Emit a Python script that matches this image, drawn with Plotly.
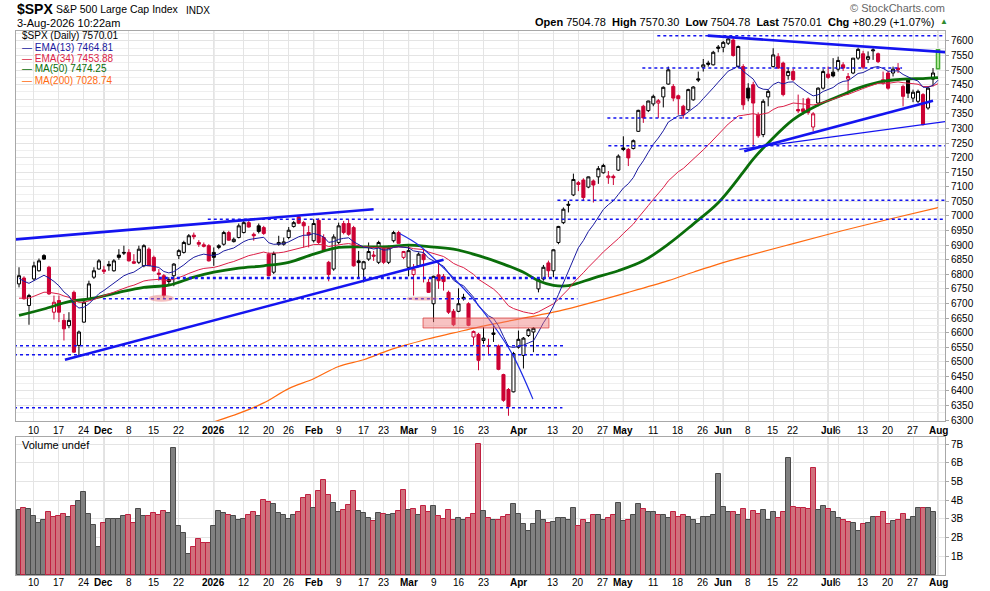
import pandas as pd
import plotly.graph_objects as go

# trading days on the chart (NYSE holidays left out)
holidays = ["2025-11-27", "2025-12-25", "2026-01-01", "2026-01-19", "2026-02-16",
            "2026-04-03", "2026-05-25", "2026-06-19", "2026-07-03"]
dates = pd.bdate_range("2025-11-05", "2026-08-03")
dates = dates[~dates.isin(pd.to_datetime(holidays))]

# daily OHLC of $SPX
opens = [6767, 6787, 6693, 6784, 6812, 6864, 6824, 6670, 6710, 6642,
         6624, 6738, 6556, 6636, 6716, 6790, 6818, 6815, 6834, 6812,
         6866, 6875, 6875, 6843, 6841, 6829, 6886, 6858, 6804, 6795,
         6782, 6795, 6864, 6875, 6903, 6934, 6909, 6901, 6898, 6875,
         6892, 6903, 6943, 6912, 6926, 6943, 6977, 6937, 6966, 6960,
         6869, 6807, 6903, 6903, 6926, 6964, 6997, 6977, 6943, 6915,
         6985, 6926, 6841, 6818, 6909, 6974, 6974, 6960, 6846, 6818,
         6852, 6866, 6841, 6892, 6841, 6915, 6943, 6858, 6824, 6799,
         6829, 6869, 6772, 6699, 6798, 6793, 6738, 6673, 6673, 6721,
         6699, 6585, 6594, 6573, 6556, 6599, 6554, 6456, 6405, 6397,
         6550, 6522, 6590, 6602, 6750, 6784, 6839, 6812, 6909, 6977,
         7040, 7072, 7114, 7123, 7099, 7120, 7134, 7148, 7131, 7136,
         7157, 7233, 7228, 7231, 7290, 7376, 7361, 7384, 7387, 7408,
         7452, 7444, 7412, 7376, 7364, 7398, 7470, 7510, 7524, 7518,
         7579, 7578, 7592, 7603, 7512, 7512, 7438, 7450, 7345, 7279,
         7408, 7512, 7546, 7524, 7481, 7495, 7365, 7367, 7401, 7305,
         7387, 7438, 7486, 7493, 7503, 7518, 7469, 7490, 7541, 7556,
         7537, 7566, 7556, 7455, 7490, 7490, 7507, 7444, 7467, 7404,
         7393, 7416, 7370, 7469, 7504.78]
highs = [6824, 6793, 6733, 6843, 6854, 6869, 6829, 6727, 6727, 6664,
         6670, 6744, 6607, 6716, 6778, 6824, 6852, 6829, 6846, 6852,
         6886, 6898, 6886, 6869, 6898, 6903, 6892, 6864, 6818, 6801,
         6790, 6838, 6886, 6915, 6938, 6943, 6917, 6909, 6903, 6892,
         6903, 6949, 6949, 6926, 6974, 6983, 6983, 6943, 6974, 6966,
         6875, 6878, 6932, 6926, 6962, 6983, 7003, 6983, 6966, 6989,
         6992, 6937, 6846, 6937, 6977, 6983, 6989, 6966, 6880, 6846,
         6909, 6880, 6915, 6898, 6898, 6949, 6949, 6880, 6898, 6835,
         6875, 6886, 6784, 6795, 6846, 6801, 6744, 6681, 6752, 6733,
         6704, 6607, 6599, 6619, 6579, 6630, 6559, 6459, 6410, 6534,
         6607, 6585, 6615, 6619, 6786, 6832, 6847, 6886, 6966, 7029,
         7051, 7145, 7120, 7129, 7135, 7125, 7171, 7179, 7154, 7142,
         7211, 7273, 7233, 7262, 7364, 7381, 7395, 7416, 7401, 7444,
         7512, 7452, 7416, 7381, 7436, 7445, 7495, 7538, 7532, 7566,
         7586, 7600, 7611, 7611, 7584, 7520, 7455, 7460, 7355, 7400,
         7433, 7575, 7558, 7529, 7507, 7504, 7416, 7404, 7406, 7356,
         7441, 7503, 7512, 7541, 7546, 7527, 7490, 7541, 7577, 7566,
         7564, 7575, 7560, 7495, 7497, 7512, 7524, 7450, 7473, 7433,
         7433, 7421, 7444, 7507, 7570.30]
lows = [6755, 6713, 6627, 6778, 6809, 6849, 6729, 6645, 6636, 6573,
        6615, 6531, 6522, 6634, 6710, 6784, 6816, 6801, 6812, 6809,
        6850, 6866, 6844, 6835, 6835, 6824, 6829, 6809, 6778, 6718,
        6761, 6759, 6852, 6871, 6900, 6920, 6894, 6892, 6844, 6829,
        6886, 6898, 6915, 6909, 6923, 6940, 6960, 6915, 6940, 6935,
        6793, 6801, 6898, 6898, 6920, 6960, 6972, 6892, 6892, 6909,
        6903, 6878, 6776, 6812, 6903, 6937, 6932, 6826, 6789, 6772,
        6846, 6846, 6835, 6835, 6835, 6909, 6906, 6852, 6793, 6727,
        6824, 6772, 6736, 6636, 6750, 6744, 6664, 6622, 6670, 6710,
        6622, 6556, 6471, 6562, 6522, 6568, 6471, 6363, 6315, 6395,
        6545, 6477, 6585, 6533, 6738, 6778, 6790, 6790, 6903, 6972,
        7012, 7068, 7085, 7051, 7095, 7046, 7110, 7145, 7110, 7106,
        7154, 7222, 7171, 7228, 7288, 7319, 7356, 7376, 7336, 7372,
        7450, 7393, 7347, 7334, 7361, 7395, 7459, 7495, 7512, 7516,
        7561, 7561, 7586, 7546, 7507, 7364, 7393, 7237, 7268, 7270,
        7376, 7509, 7504, 7410, 7467, 7463, 7353, 7347, 7347, 7290,
        7376, 7433, 7470, 7475, 7495, 7497, 7416, 7486, 7535, 7503,
        7524, 7535, 7524, 7450, 7433, 7478, 7490, 7376, 7404, 7390,
        7387, 7310, 7364, 7444, 7504.78]
closes = [6795, 6716, 6727, 6829, 6846, 6852, 6733, 6704, 6670, 6613,
          6642, 6533, 6602, 6704, 6767, 6812, 6846, 6810, 6829, 6846,
          6858, 6873, 6846, 6838, 6886, 6898, 6829, 6812, 6800, 6727,
          6775, 6835, 6881, 6909, 6932, 6929, 6903, 6896, 6846, 6858,
          6898, 6943, 6917, 6920, 6966, 6977, 6962, 6932, 6947, 6940,
          6795, 6871, 6909, 6911, 6951, 6977, 6975, 6966, 6935, 6974,
          6909, 6883, 6799, 6928, 6966, 6943, 6937, 6829, 6840, 6843,
          6878, 6862, 6909, 6841, 6892, 6943, 6906, 6878, 6881, 6818,
          6869, 6850, 6738, 6793, 6778, 6775, 6670, 6627, 6699, 6716,
          6625, 6604, 6505, 6581, 6553, 6594, 6474, 6368, 6346, 6528,
          6577, 6581, 6610, 6615, 6782, 6824, 6812, 6884, 6964, 7023,
          7037, 7125, 7108, 7063, 7134, 7106, 7162, 7173, 7137, 7131,
          7205, 7228, 7199, 7258, 7362, 7336, 7394, 7410, 7395, 7441,
          7501, 7404, 7402, 7347, 7433, 7442, 7466, 7518, 7520, 7561,
          7575, 7595, 7607, 7550, 7581, 7381, 7404, 7387, 7275, 7393,
          7427, 7552, 7507, 7416, 7495, 7467, 7360, 7358, 7355, 7350,
          7438, 7495, 7475, 7480, 7533, 7507, 7478, 7541, 7571, 7510,
          7546, 7569, 7529, 7467, 7438, 7503, 7501, 7410, 7421, 7424,
          7427, 7313, 7438, 7490, 7570.01]

# volume in billions (today's bar is not drawn yet)
volume_b = [3.48, 3.57, 3.52, 3.16, 2.77, 2.95, 3.36, 3.09, 3.16, 3.25,
            3.09, 3.68, 3.96, 4.45, 3.25, 2.66, 1.48, 2.77, 2.98, 2.98,
            2.98, 3.14, 3.20, 2.77, 3.52, 3.14, 3.14, 3.30, 3.20, 3.43,
            3.30, 6.79, 2.61, 2.23, 1.11, 1.48, 1.91, 1.70, 1.70, 2.61,
            3.41, 3.30, 3.20, 3.14, 2.93, 2.98, 3.20, 3.36, 3.14, 4.00,
            3.89, 3.79, 3.30, 3.20, 2.98, 3.20, 3.36, 4.11, 4.27, 3.57,
            4.48, 5.07, 4.27, 3.84, 3.36, 3.46, 3.73, 4.48, 3.41, 3.30,
            3.04, 2.88, 3.30, 3.25, 3.20, 3.25, 3.43, 4.54, 3.46, 3.52,
            3.20, 3.68, 3.36, 3.68, 3.14, 2.98, 3.46, 2.93, 3.04, 2.93,
            3.04, 3.25, 7.00, 3.45, 3.07, 2.94, 2.97, 3.13, 3.23, 3.82,
            3.29, 2.71, 2.35, 2.71, 3.45, 2.97, 2.76, 2.85, 3.03, 3.03,
            2.97, 3.61, 2.60, 2.97, 2.81, 3.24, 3.19, 2.97, 3.03, 3.24,
            3.88, 2.87, 2.92, 3.19, 3.82, 3.56, 3.35, 3.40, 3.22, 3.22,
            3.03, 3.35, 3.13, 3.19, 3.13, 2.92, 2.71, 3.08, 3.13, 3.19,
            5.42, 3.66, 3.40, 3.40, 3.24, 3.56, 2.92, 3.45, 3.29, 3.50,
            2.97, 3.35, 3.03, 3.35, 6.27, 3.66, 3.61, 3.61, 3.56, 5.74,
            3.50, 3.71, 3.56, 3.40, 3.03, 2.97, 2.85, 2.76, 2.35, 2.71,
            2.81, 3.08, 3.13, 3.40, 2.71, 2.87, 2.97, 3.29, 2.97, 3.08,
            3.61, 3.61, 3.61, 3.40, None]

# MA(50) and MA(200) at roughly weekly points (bar index, value)
ma50_idx = [0, 5, 10, 15, 20, 25, 30, 35, 39, 44, 49, 54, 59, 64, 69, 74, 78, 82, 87,
            92, 97, 101, 104, 107, 110, 115, 120, 125, 130, 135, 140, 145, 147, 150,
            155, 160, 165, 168, 172, 175, 178, 181, 184]
ma50_val = [6659, 6681, 6706, 6718, 6738, 6755, 6763, 6790, 6807, 6821, 6829, 6841,
            6869, 6892, 6894, 6895, 6900, 6895, 6886, 6864, 6835, 6807, 6778, 6762,
            6761, 6787, 6812, 6846, 6903, 6972, 7045, 7150, 7195, 7250, 7330, 7380,
            7416, 7438, 7458, 7466, 7470, 7471, 7474.25]
ma200_idx = [39, 44, 49, 54, 59, 64, 69, 74, 78, 82, 87, 92, 97, 102, 107, 112,
             122, 130, 135, 140, 146, 155, 165, 175, 184]
ma200_val = [6294, 6323, 6359, 6408, 6442, 6484, 6507, 6539, 6560, 6579, 6599, 6619,
             6636, 6653, 6670, 6691, 6738, 6778, 6807, 6835, 6864, 6905, 6950, 6992,
             7028.74]
# EMA start values read at the first bar
ema13_start = 6786
ema34_start = 6718

# x-axis labels (week starts / month starts)
tick_dates = ["2025-11-10", "2025-11-17", "2025-11-24", "2025-12-01", "2025-12-08",
              "2025-12-15", "2025-12-22", "2026-01-02", "2026-01-12", "2026-01-20",
              "2026-01-26", "2026-02-02", "2026-02-09", "2026-02-17", "2026-02-23",
              "2026-03-02", "2026-03-09", "2026-03-16", "2026-03-23", "2026-04-01",
              "2026-04-13", "2026-04-20", "2026-04-27", "2026-05-01", "2026-05-11",
              "2026-05-18", "2026-05-26", "2026-06-01", "2026-06-08", "2026-06-15",
              "2026-06-22", "2026-07-01", "2026-07-06", "2026-07-13", "2026-07-20",
              "2026-07-27", "2026-08-03"]
tick_text = ["10", "17", "24", "Dec", "8", "15", "22", "2026", "12", "20", "26", "Feb",
             "9", "17", "23", "Mar", "9", "16", "23", "Apr", "13", "20", "27", "May",
             "11", "18", "26", "Jun", "8", "15", "22", "Jul", "6", "13", "20", "27", "Aug"]

# hand-drawn annotations: trend lines (x0, y0, x1, y1, width) and dotted levels
trend_lines = [(-3.8, 6915, 71, 7023, 2.6), (9.2, 6507, 85, 6850, 2.6),
               (137.9, 7618, 185.8, 7561, 2.6), (145.2, 7222, 183, 7395, 2.6),
               (144.2, 7228, 187, 7327, 1.2)]
curve_x = [76.2, 80.2, 86.2, 91.5, 95.5, 98.9, 102.9]
curve_y = [6940, 6898, 6801, 6704, 6613, 6522, 6372]
levels = [(127.8, 185.5, 7618, 1.5), (124.8, 176.8, 7507, 1.5), (117.8, 145.0, 7336, 1.5),
          (118.0, 185.5, 7241, 1.5), (107.8, 185.5, 7054, 1.5), (37.8, 185.5, 6989, 1.5),
          (28.0, 111.8, 6787, 2.6), (16.8, 111.8, 6716, 1.5), (-1, 109.2, 6555, 1.5),
          (-1, 108.2, 6524, 1.5), (-1, 108.8, 6342, 1.5)]

RED = "#cc0033"
W, H = 990, 591
L, R, T, B = 16, 45, 31, 16


def px(x, y):
    # pixel position in the window -> paper coordinates
    return (x - L) / (W - L - R), (H - B - y) / (H - T - B)


def ema(vals, n, start):
    a = 2 / (n + 1)
    out = [start]
    for v in vals[1:]:
        out.append(out[-1] + a * (v - out[-1]))
    return out


df = pd.DataFrame({"date": dates, "open": opens, "high": highs, "low": lows,
                   "close": closes, "vol": [v * 1e9 if v else None for v in volume_b]})
df["x"] = range(len(df))
df["down"] = df["close"] < df["close"].shift(1)
xpos = {d.strftime("%Y-%m-%d"): i for i, d in enumerate(df["date"])}
tickvals = [xpos[d] for d in tick_dates]

fig = go.Figure()

up = df[~df["down"]].iloc[:-1]
dn = df[df["down"]]
last = df.iloc[-1:]
for part, col in [(up, "#000000"), (dn, RED)]:
    fig.add_trace(go.Candlestick(
        x=part["x"], open=part["open"], high=part["high"], low=part["low"], close=part["close"],
        increasing=dict(line=dict(color=col, width=1), fillcolor="white"),
        decreasing=dict(line=dict(color=col, width=1), fillcolor=col),
        hoverinfo="skip"))
fig.add_trace(go.Candlestick(
    x=last["x"], open=last["open"], high=last["high"], low=last["low"], close=last["close"],
    increasing=dict(line=dict(color="#44aa33", width=1.5), fillcolor="#c6f3ae"),
    decreasing=dict(line=dict(color="#44aa33", width=1.5), fillcolor="#c6f3ae"),
    hoverinfo="skip"))

fig.add_trace(go.Scatter(x=ma200_idx, y=ma200_val, mode="lines", line=dict(color="#ff6a10", width=1.2, shape="spline")))
fig.add_trace(go.Scatter(x=ma50_idx, y=ma50_val, mode="lines", line=dict(color="#0a6e0a", width=2.8, shape="spline")))
fig.add_trace(go.Scatter(x=df["x"], y=ema(closes, 34, ema34_start), mode="lines", line=dict(color="#dc1e46", width=1)))
fig.add_trace(go.Scatter(x=df["x"], y=ema(closes, 13, ema13_start), mode="lines", line=dict(color="#1a1aa0", width=1)))
fig.add_trace(go.Scatter(x=curve_x, y=curve_y, mode="lines", line=dict(color="#1e2de6", width=1.2, shape="spline")))

vol_colors = ["#d0707c" if d else "#808080" for d in df["down"]]
vol_lines = ["#c02040" if d else "#4a4a4a" for d in df["down"]]
fig.add_trace(go.Bar(x=df["x"], y=df["vol"], xaxis="x2", yaxis="y2",
                     marker=dict(color=vol_colors, line=dict(color=vol_lines, width=1))))

shapes = []
for x0, y0, x1, y1, w in trend_lines:
    shapes.append(dict(type="line", xref="x", yref="y", x0=x0, y0=y0, x1=x1, y1=y1,
                       line=dict(color="#1414f0", width=w)))
for x0, x1, y, w in levels:
    shapes.append(dict(type="line", xref="x", yref="y", x0=x0, y0=y, x1=x1, y1=y,
                       line=dict(color="#1414f0", width=w, dash="dot")))
shapes.append(dict(type="circle", xref="x", yref="y", x0=26, x1=31, y0=6706, y1=6730,
                   fillcolor="rgba(235,120,120,0.45)", line=dict(width=0)))
shapes.append(dict(type="circle", xref="x", yref="y", x0=77.5, x1=83.9, y0=6710, y1=6723,
                   fillcolor="rgba(235,120,120,0.45)", line=dict(width=0)))
shapes.append(dict(type="rect", xref="x", yref="y", x0=80.9, x1=106.1, y0=6616, y1=6650,
                   fillcolor="rgba(240,120,120,0.45)", line=dict(color="rgba(220,70,70,0.8)", width=1)))
# darker grid lines at month starts
for v, t in zip(tickvals, tick_text):
    if not t.isdigit() or t == "2026":
        for ya in ["y domain", "y2 domain"]:
            shapes.append(dict(type="line", xref="x", yref=ya, x0=v, x1=v, y0=0, y1=1, layer="below",
                               line=dict(color="#b9b9b9", width=1)))

axis_font = dict(family="Liberation Sans, Arial", size=10, color="#000")
xcommon = dict(range=[-0.6, 185.4], tickvals=tickvals, showticklabels=False, showgrid=True,
               gridcolor="#e4e4e4", showline=True, linecolor="#a8a8a8", mirror=True,
               zeroline=False, ticks="", automargin=False, rangeslider=dict(visible=False))

fig.update_layout(
    width=W, height=H, autosize=False, margin=dict(l=L, r=R, t=T, b=B, pad=0),
    paper_bgcolor="white", plot_bgcolor="white", showlegend=False, boxgap=0.12,
    xaxis=dict(anchor="y", **xcommon),
    xaxis2=dict(anchor="y2", matches="x", **xcommon),
    yaxis=dict(domain=[px(0, 421)[1], 1], range=[6297, 7634], side="right", dtick=50,
               tick0=0, showgrid=True, gridcolor="#e4e4e4", showline=True, linecolor="#a8a8a8",
               mirror=True, zeroline=False, ticks="outside", ticklen=3, tickcolor="#a8a8a8",
               tickfont=axis_font, automargin=False,
               minor=dict(dtick=25, showgrid=True, gridcolor="#efefef")),
    yaxis2=dict(domain=[0, px(0, 437)[1]], range=[0, 7.39e9], side="right",
                tickvals=[i * 1e9 for i in range(1, 8)], ticktext=[f"{i}B" for i in range(1, 8)],
                showgrid=True, gridcolor="#e4e4e4", showline=True, linecolor="#a8a8a8",
                mirror=True, zeroline=False, ticks="outside", ticklen=3, tickcolor="#a8a8a8",
                tickfont=axis_font, automargin=False),
    bargap=0, shapes=shapes,
)

font = "Liberation Sans, Arial"
# date labels under the price panel and under the volume panel
for v, t in zip(tickvals, tick_text):
    label = t if t.isdigit() and t != "2026" else f"<b>{t}</b>"
    for ypix in (430, 582):
        fig.add_annotation(x=v, xref="x", y=px(0, ypix)[1], yref="paper", text=label,
                           showarrow=False, xanchor="center", yanchor="middle",
                           font=dict(family=font, size=10, color="#000"))

notes = [
    (15, 9, "<b>$SPX</b>", 14, "#000", "left"),
    (54, 9, "S&P 500 Large Cap Index", 10.5, "#000", "left"),
    (184, 10, "INDX", 10, "#000", "left"),
    (15, 23, "3-Aug-2026 10:22am", 11, "#000", "left"),
    (947, 8, "© StockCharts.com", 11, "#666", "right"),
    (936, 22, "<b>Open</b> 7504.78  <b>High</b> 7570.30  <b>Low</b> 7504.78  "
              "<b>Last</b> 7570.01  <b>Chg</b> +80.29 (+1.07%)", 11, "#000", "right"),
    (938, 22, "▲", 8, "#2e8b2e", "left"),
    (20, 36, "$SPX (Daily) 7570.01", 10, "#000", "left"),
    (20, 47, "— EMA(13) 7464.81", 10, "#1a1aa0", "left"),
    (20, 58, "— EMA(34) 7453.88", 10, "#dc1e46", "left"),
    (20, 69, "— MA(50) 7474.25", 10, "#0a6e0a", "left"),
    (20, 80, "— MA(200) 7028.74", 10, "#ff6a10", "left"),
    (20, 445, "Volume undef", 11, "#000", "left"),
]
for x, y, text, size, color, align in notes:
    ax, ay = px(x, y)
    fig.add_annotation(x=ax, y=ay, xref="paper", yref="paper", text=text, showarrow=False,
                       xanchor=align, yanchor="middle", font=dict(family=font, size=size, color=color))

# the page's default 8px body margin would push the chart off its spot
fig.write_html("out.html", config={"displayModeBar": False},
               post_script="document.body.style.margin='0';")
